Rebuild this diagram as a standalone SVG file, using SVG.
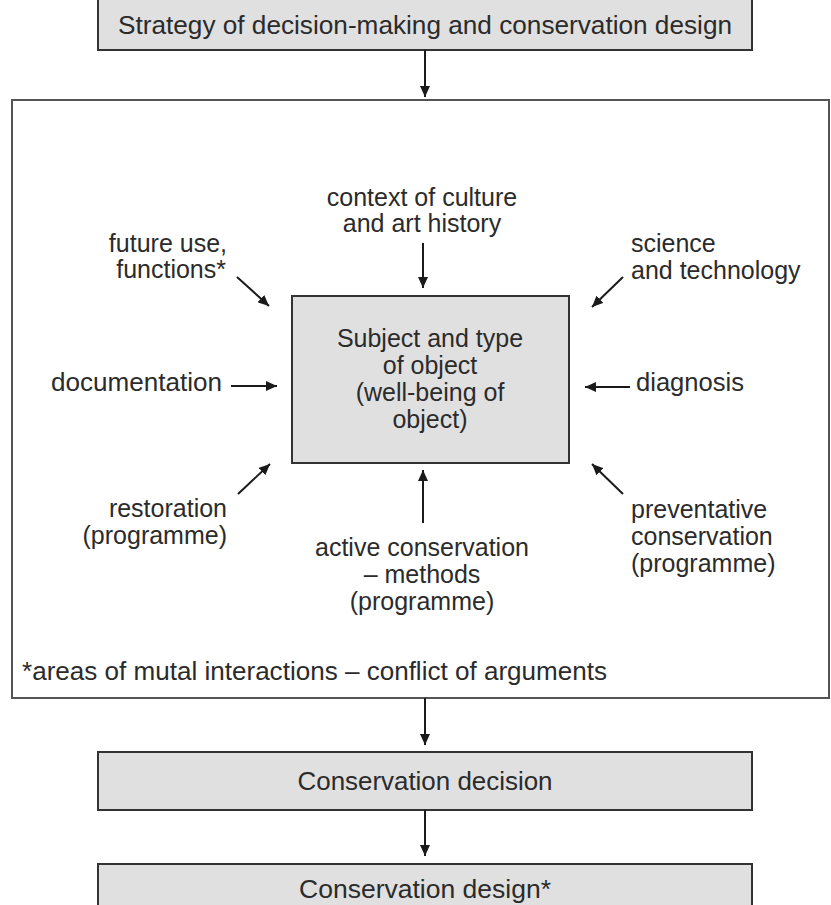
<svg xmlns="http://www.w3.org/2000/svg" width="831" height="905" viewBox="0 0 831 905">
<defs>
<marker id="ah" markerUnits="userSpaceOnUse" markerWidth="12" markerHeight="10" refX="11" refY="5" orient="auto">
<path d="M0,0 L11,5 L0,10 Z" fill="#1a1a1a"/>
</marker>
<style>
text{font-family:"Liberation Sans",Arial,sans-serif;font-size:25px;fill:#2b2b2b}
.box{fill:#e0e0e0;stroke:#333;stroke-width:2}
.frame{fill:#fff;stroke:#555;stroke-width:2}
.c{stroke:#1a1a1a;stroke-width:2;fill:none;marker-end:url(#ah)}
.m{text-anchor:middle}
.e{text-anchor:end}
</style>
</defs>
<rect width="831" height="905" fill="#fff"/>
<g id="strategy">
<rect class="box" x="98" y="-2" width="654" height="52"/>
<text class="m" x="425" y="34" font-size="26" textLength="614" lengthAdjust="spacingAndGlyphs">Strategy of decision-making and conservation design</text>
</g>
<g id="frame">
<rect class="frame" x="12" y="100" width="817" height="598"/>
<text x="22" y="680" textLength="585" lengthAdjust="spacingAndGlyphs">*areas of mutal interactions – conflict of arguments</text>
</g>
<g id="subject">
<rect class="box" x="292" y="296" width="277" height="167"/>
<text class="m" x="430" y="347">Subject and type</text>
<text class="m" x="430" y="374">of object</text>
<text class="m" x="430" y="401">(well-being of</text>
<text class="m" x="430" y="428">object)</text>
</g>
<g id="context">
<text class="m" x="422" y="206">context of culture</text>
<text class="m" x="422" y="232">and art history</text>
</g>
<g id="future">
<text class="e" x="227" y="252">future use,</text>
<text class="e" x="226" y="278">functions*</text>
</g>
<g id="science">
<text x="631" y="252">science</text>
<text x="631" y="279">and technology</text>
</g>
<g id="documentation">
<text x="51" y="391" textLength="171" lengthAdjust="spacingAndGlyphs">documentation</text>
</g>
<g id="diagnosis">
<text x="636" y="391" textLength="108" lengthAdjust="spacingAndGlyphs">diagnosis</text>
</g>
<g id="restoration">
<text class="e" x="227" y="517">restoration</text>
<text class="e" x="227" y="544">(programme)</text>
</g>
<g id="active">
<text class="m" x="422" y="556">active conservation</text>
<text class="m" x="422" y="583">– methods</text>
<text class="m" x="422" y="610">(programme)</text>
</g>
<g id="preventative">
<text x="631" y="518">preventative</text>
<text x="631" y="545">conservation</text>
<text x="631" y="572">(programme)</text>
</g>
<g id="decision">
<rect class="box" x="98" y="752" width="654" height="58"/>
<text class="m" x="425" y="790" textLength="255" lengthAdjust="spacingAndGlyphs">Conservation decision</text>
</g>
<g id="design">
<rect class="box" x="98" y="864" width="654" height="50"/>
<text class="m" x="425" y="898" textLength="252" lengthAdjust="spacingAndGlyphs">Conservation design*</text>
</g>
<g id="connectors">
<line class="c" x1="425" y1="50" x2="425" y2="97"/>
<line class="c" x1="423" y1="243" x2="423" y2="288"/>
<line class="c" x1="237" y1="277" x2="269" y2="306"/>
<line class="c" x1="623" y1="277" x2="592" y2="307"/>
<line class="c" x1="231" y1="386" x2="277" y2="386"/>
<line class="c" x1="630" y1="387" x2="585" y2="387"/>
<line class="c" x1="238" y1="494" x2="270" y2="464"/>
<line class="c" x1="423" y1="523" x2="423" y2="470"/>
<line class="c" x1="623" y1="494" x2="592" y2="464"/>
<line class="c" x1="425" y1="698" x2="425" y2="745"/>
<line class="c" x1="425" y1="810" x2="425" y2="856"/>
</g>
</svg>
